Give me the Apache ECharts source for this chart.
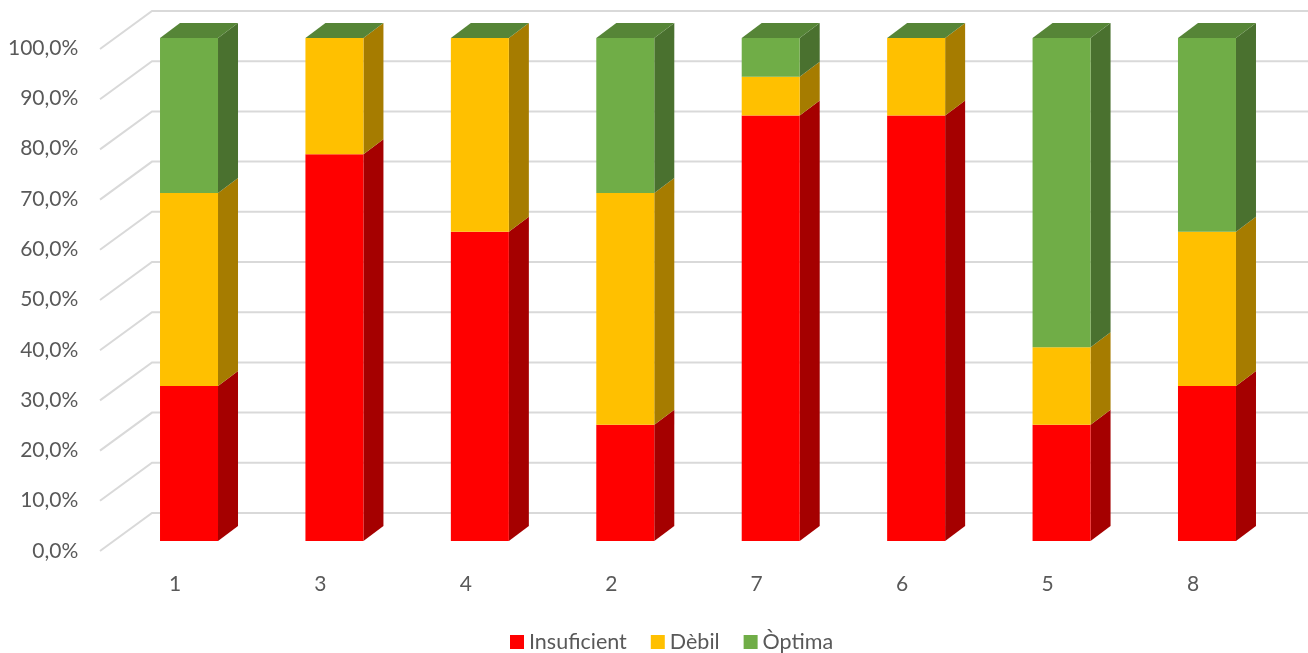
<!DOCTYPE html>
<html>
<head>
<meta charset="utf-8">
<script src="https://cdn.jsdelivr.net/npm/echarts@6/dist/echarts.min.js"></script>
<style>
  html, body { margin: 0; padding: 0; background: #fff; }
  #chart { width: 1308px; height: 653px; }
</style>
</head>
<body>
<div id="chart"></div>
<script>
// Categories and stacked shares (%) per category
const categories = ['1', '3', '4', '2', '7', '6', '5', '8'];
const insuficient = [30.8, 76.9, 61.5, 23.1, 84.6, 84.6, 23.1, 30.8];
const debil       = [38.4, 23.1, 38.5, 46.1, 7.7, 15.4, 15.4, 30.7];
const optima      = [30.8, 0, 0, 30.8, 7.7, 0, 61.5, 38.5];
const yTickValues = [0, 10, 20, 30, 40, 50, 60, 70, 80, 90, 100];
const yTickLabels = ['0,0%', '10,0%', '20,0%', '30,0%', '40,0%', '50,0%', '60,0%', '70,0%', '80,0%', '90,0%', '100,0%'];

const FONT = 'Lato, "Liberation Sans", sans-serif';
const TEXT = '#595959';

// 3D column geometry (pixels)
const BAR_W = 58, DX = 20, DY = 15;
// back-wall to front-wall offset of the floor diagonals
const WALL_DX = 52, WALL_DY = 38;

const seriesDefs = [
  { name: 'Insuficient', values: insuficient, front: '#FF0000', side: '#A50000', top: '#CC0000' },
  { name: 'Dèbil',       values: debil,       front: '#FFC000', side: '#A67C00', top: '#CC9A00' },
  { name: 'Òptima',      values: optima,      front: '#70AD47', side: '#4A712F', top: '#568537' }
];
const LAST = seriesDefs.length - 1;

// cumulative stacking: [categoryIndex, start, end]
const base = categories.map(() => 0);
const stacked = seriesDefs.map(def => def.values.map((v, i) => {
  const s = base[i];
  base[i] += v;
  return [i, s, base[i]];
}));

function makeRender(def, k) {
  return function (params, api) {
    const i = api.value(0), s = api.value(1), e = api.value(2);
    const pb = api.coord([i, s]);
    const pt = api.coord([i, e]);
    const x0 = pb[0] - BAR_W / 2, x1 = x0 + BAR_W;
    const yb = pb[1], yt = pt[1];
    const children = [];
    if (e - s > 0) {
      children.push(
        {
          type: 'polygon',
          shape: { points: [[x1, yb], [x1 + DX, yb - DY], [x1 + DX, yt - DY], [x1, yt]] },
          style: { fill: def.side }
        },
        {
          type: 'rect',
          shape: { x: x0, y: yt, width: BAR_W, height: yb - yt },
          style: { fill: def.front }
        }
      );
    }
    // the top series caps every column, even with a zero-height segment
    if (k === LAST) {
      children.push({
        type: 'polygon',
        shape: { points: [[x0, yt], [x1, yt], [x1 + DX, yt - DY], [x0 + DX, yt - DY]] },
        style: { fill: def.top }
      });
    }
    return { type: 'group', children: children };
  };
}

const chart = echarts.init(document.getElementById('chart'), null, { renderer: 'canvas' });

const option = {
  animation: false,
  backgroundColor: '#ffffff',
  textStyle: { fontFamily: FONT },
  legend: {
    data: seriesDefs.map(d => d.name),
    left: 505,
    top: 626,
    itemWidth: 14,
    itemHeight: 14,
    itemGap: 24,
    icon: 'rect',
    textStyle: { fontFamily: FONT, fontSize: 21.5, color: TEXT }
  },
  grid: [
    // bar front plane
    { left: 116.3, right: 28.3, top: 38, bottom: 112 },
    // front wall (axis labels)
    { left: 102.3, right: 42.3, top: 48, bottom: 102 },
    // back wall (gridlines)
    { left: 152, right: 0, top: 11, bottom: 140 }
  ],
  xAxis: [
    { gridIndex: 0, type: 'category', data: categories, show: false },
    {
      gridIndex: 1, type: 'category', data: categories,
      axisLine: { show: false }, axisTick: { show: false },
      axisLabel: { margin: 23, fontFamily: FONT, fontSize: 21, color: TEXT }
    },
    { gridIndex: 2, type: 'value', min: 0, max: 1, show: false }
  ],
  yAxis: [
    { gridIndex: 0, type: 'value', min: 0, max: 100, show: false },
    {
      gridIndex: 1, type: 'value', min: 0, max: 100, interval: 10,
      axisLine: { show: false }, axisTick: { show: false }, splitLine: { show: false },
      axisLabel: {
        margin: 24, fontFamily: FONT, fontSize: 21, color: TEXT,
        padding: [12, 0, 0, 0],
        formatter: v => yTickLabels[yTickValues.indexOf(Math.round(v))]
      }
    },
    { gridIndex: 2, type: 'value', min: 0, max: 100, show: false }
  ],
  series: [
    {
      name: 'walls',
      type: 'custom',
      xAxisIndex: 2, yAxisIndex: 2,
      silent: true,
      z: 1,
      data: yTickValues.map(v => [0, v]),
      renderItem: function (params, api) {
        const p = api.coord([0, api.value(1)]);
        return {
          type: 'polyline',
          shape: { points: [[p[0] - WALL_DX, p[1] + WALL_DY], [p[0], p[1]], [1308, p[1]]] },
          style: { stroke: '#D9D9D9', lineWidth: 2, fill: null }
        };
      }
    }
  ].concat(seriesDefs.map((def, k) => ({
    name: def.name,
    type: 'custom',
    xAxisIndex: 0, yAxisIndex: 0,
    z: 2 + k,
    itemStyle: { color: def.front },
    data: stacked[k],
    renderItem: makeRender(def, k)
  })))
};

chart.setOption(option);
</script>
</body>
</html>
